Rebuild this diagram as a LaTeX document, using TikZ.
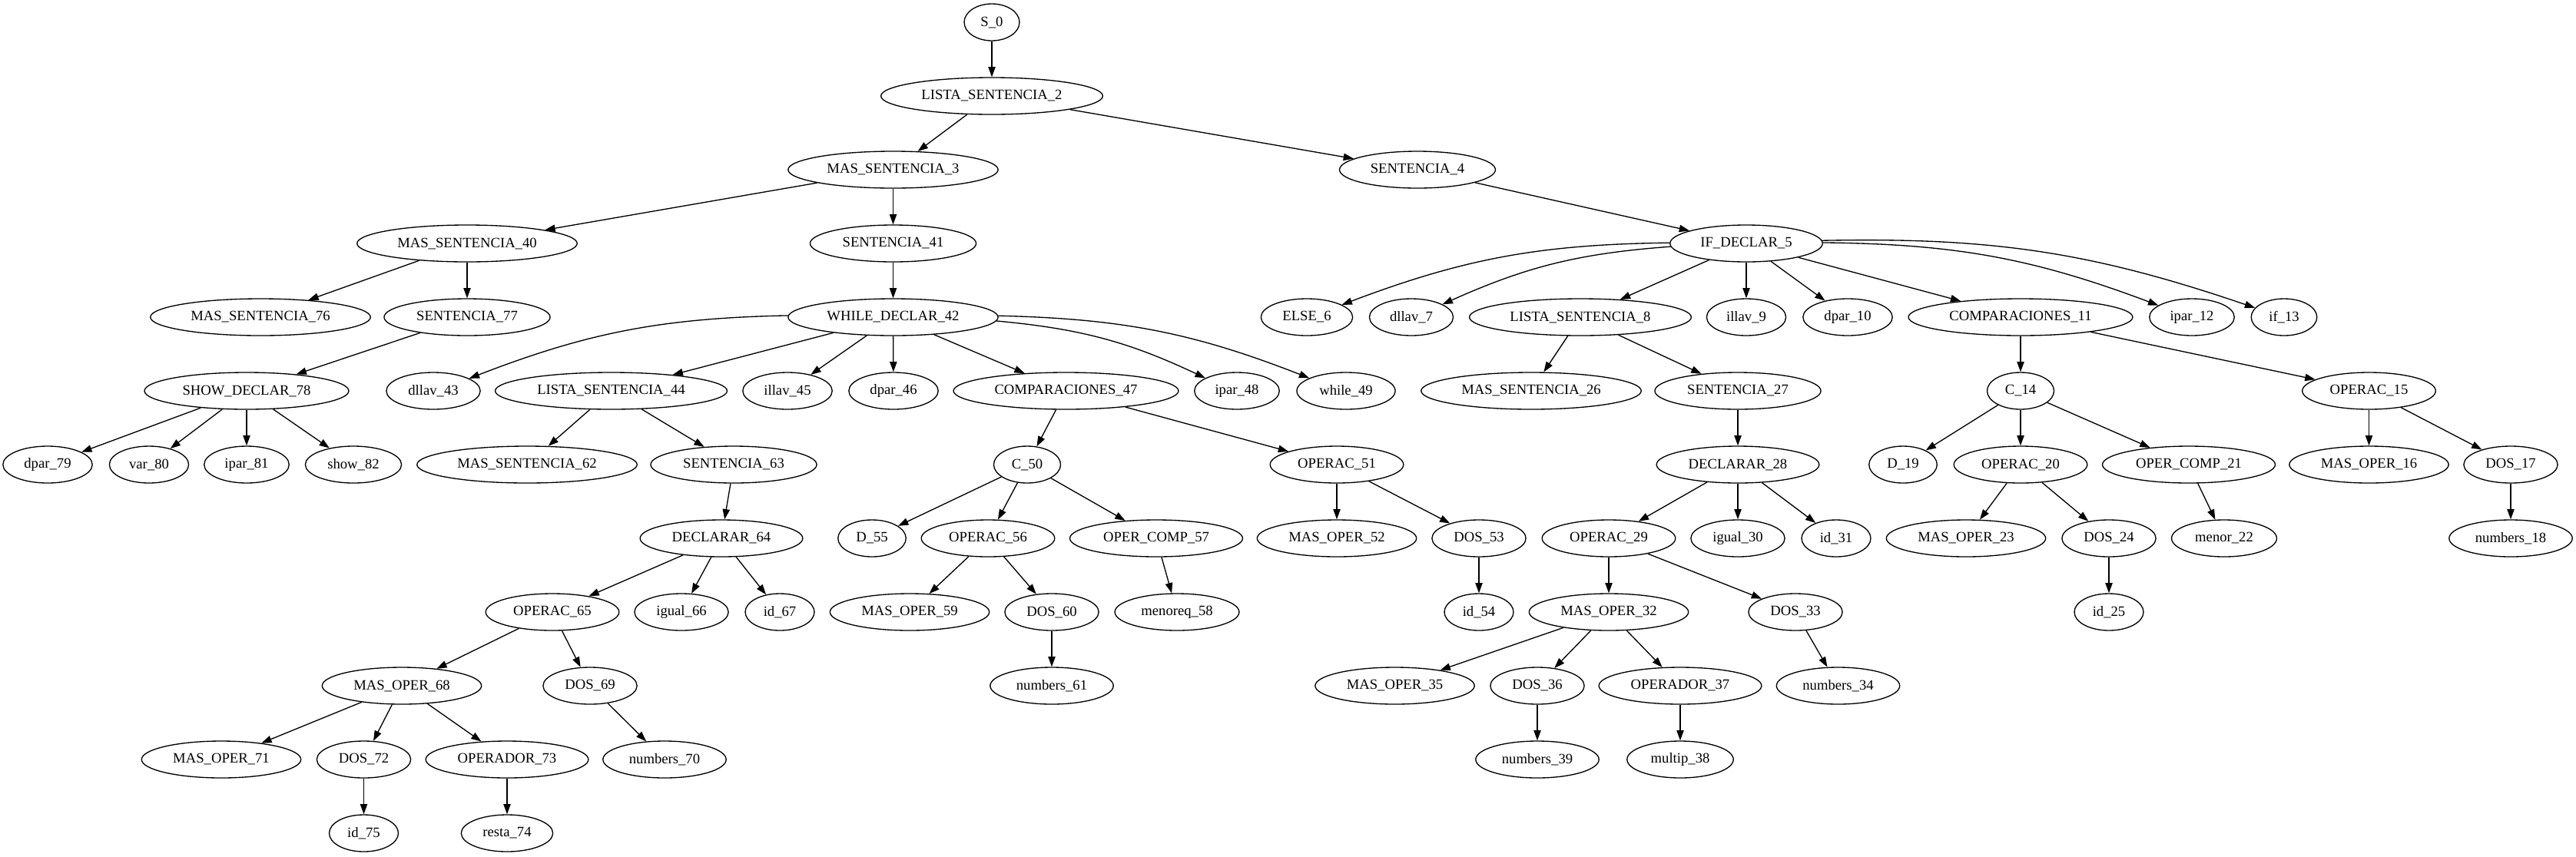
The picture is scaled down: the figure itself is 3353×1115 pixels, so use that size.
\documentclass[tikz,border=0pt]{standalone}
\usepackage{fontspec}
\setmainfont{Liberation Serif}
\usepackage{tikz}
\usetikzlibrary{shapes,arrows.meta}

\begin{document}
\begin{tikzpicture}[
      x=0.75pt,y=-0.75pt,line width=1pt,
      pointer/.style={->,>={Triangle[length=10pt,width=7pt]},draw=black},
      arcl/.style={pointer,bend left=10},
      arcr/.style={pointer,bend right=10},
      every node/.style={ellipse,draw=black,inner xsep=7.92pt,inner ysep=3.96pt,
        minimum width=54pt,minimum height=36pt,font=\fontsize{14pt}{16pt}\selectfont}
      ]
      \useasboundingbox (0,0) rectangle (3353,1115);
      % nodes: number/x/row/name
      \foreach \id/\x/\r/\t in {
        0/1291/0/S, 2/1291/1/LISTA\_SENTENCIA,
        3/1162.5/2/MAS\_SENTENCIA, 4/1845/2/SENTENCIA,
        40/608/3/MAS\_SENTENCIA, 41/1162.5/3/SENTENCIA, 5/2273/3/IF\_DECLAR,
        76/339/4/MAS\_SENTENCIA, 77/608/4/SENTENCIA, 42/1162.5/4/WHILE\_DECLAR,
        6/1701/4/ELSE, 7/1837/4/dllav, 8/2057/4/LISTA\_SENTENCIA, 9/2273/4/illav,
        10/2405/4/dpar, 11/2630/4/COMPARACIONES, 12/2853/4/ipar, 13/2973/4/if,
        78/321/5/SHOW\_DECLAR, 43/564/5/dllav, 44/795.5/5/LISTA\_SENTENCIA,
        45/1025/5/illav, 46/1163/5/dpar, 47/1387.5/5/COMPARACIONES, 48/1610/5/ipar,
        49/1752/5/while, 26/1993/5/MAS\_SENTENCIA, 27/2262/5/SENTENCIA,
        14/2630/5/C, 15/3083.5/5/OPERAC,
        79/62/6/dpar, 80/194/6/var, 81/321/6/ipar, 82/460/6/show,
        62/686/6/MAS\_SENTENCIA, 63/955/6/SENTENCIA, 50/1337/6/C, 51/1740/6/OPERAC,
        28/2262/6/DECLARAR, 19/2477/6/D, 20/2630/6/OPERAC, 21/2849/6/OPER\_COMP,
        16/3083.5/6/MAS\_OPER, 17/3268/6/DOS,
        64/939/7/DECLARAR, 55/1135/7/D, 56/1286/7/OPERAC, 57/1505/7/OPER\_COMP,
        52/1740/7/MAS\_OPER, 53/1925/7/DOS, 29/2094/7/OPERAC, 30/2262/7/igual,
        31/2390/7/id, 23/2559/7/MAS\_OPER, 24/2745/7/DOS, 22/2895/7/menor,
        18/3268/7/numbers,
        65/719/8/OPERAC, 66/887/8/igual, 67/1015/8/id, 59/1184/8/MAS\_OPER,
        60/1369/8/DOS, 58/1532/8/menoreq, 54/1925/8/id, 32/2094/8/MAS\_OPER,
        33/2337/8/DOS, 25/2745/8/id,
        68/523/9/MAS\_OPER, 69/768/9/DOS, 61/1369/9/numbers, 35/1815.5/9/MAS\_OPER,
        36/2001/9/DOS, 37/2187/9/OPERADOR, 34/2392.5/9/numbers,
        71/288/10/MAS\_OPER, 72/473.5/10/DOS, 73/660/10/OPERADOR, 70/865/10/numbers,
        39/2001/10/numbers, 38/2187/10/multip,
        75/473.5/11/id, 74/660/11/resta}
        \node (n\id) at (\x,\r*96+29) {\t\_\id};
      % straight edges
      \foreach \a/\b in {0/2, 2/3, 2/4, 3/40, 3/41, 4/5, 40/76, 40/77, 41/42,
        5/8, 5/9, 5/10, 5/11, 77/78, 42/44, 42/45, 42/46, 42/47, 8/26, 8/27,
        11/14, 11/15, 78/79, 78/80, 78/81, 78/82, 44/62, 44/63, 47/50, 47/51,
        27/28, 14/19, 14/20, 14/21, 15/16, 15/17, 63/64, 50/55, 50/56, 50/57,
        51/52, 51/53, 28/29, 28/30, 28/31, 20/23, 20/24, 21/22, 17/18,
        64/65, 64/66, 64/67, 56/59, 56/60, 57/58, 53/54, 29/32, 29/33, 24/25,
        65/68, 65/69, 60/61, 32/35, 32/36, 32/37, 33/34, 68/71, 68/72, 68/73,
        69/70, 36/39, 37/38, 72/75, 73/74}
        \path (n\a) edge [pointer] (n\b);
      % curved edges
      \path (n42) edge [arcr] (n43);
      \path (n42) edge [arcl] (n48);
      \path (n42) edge [arcl] (n49);
      \path (n5) edge [arcr] (n6);
      \path (n5) edge [arcr] (n7);
      \path (n5) edge [arcl] (n12);
      \path (n5) edge [arcl] (n13);
    \end{tikzpicture}
\end{document}
